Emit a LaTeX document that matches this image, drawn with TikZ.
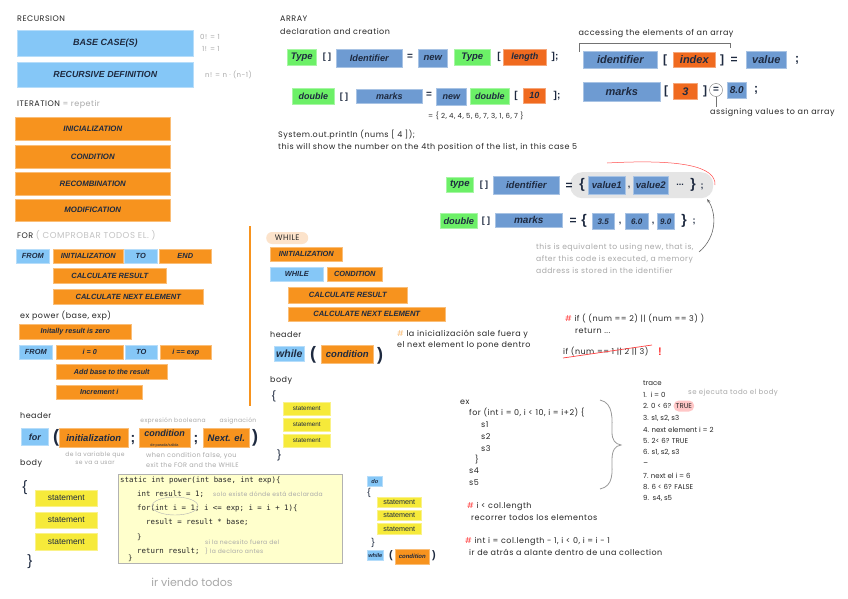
\documentclass[tikz,border=0pt]{standalone}
\usepackage{fontspec}
\setmainfont{Liberation Sans}
\newfontfamily\hand[LetterSpace=6]{Poppins}
\newfontfamily\handn{Poppins}
\setmonofont{DejaVu Sans Mono}
\usetikzlibrary{shapes.geometric,arrows.meta,positioning}
\definecolor{rblue}{HTML}{85C7F7}
\definecolor{orng}{HTML}{F7931E}
\definecolor{ablue}{HTML}{6E9BD2}
\definecolor{agreen}{HTML}{6CF067}
\definecolor{dorng}{HTML}{F06A1F}
\definecolor{syellow}{HTML}{F6EA3A}
\definecolor{ink}{HTML}{1E2A40}
\definecolor{codey}{HTML}{FFFFCC}
\definecolor{peach}{HTML}{FCE3CB}
\definecolor{hgray}{HTML}{A8A8A8}
\newcommand\mkbox[7]{\node[bx,#1,minimum width=#4,minimum height=#5] (#6) at (#2,#3) {#7};}
\tikzset{
  bx/.style={rectangle,inner sep=0pt,anchor=north west,text=ink},
  rb/.style={fill=rblue,draw=rblue!60!white,line width=0.6pt},
  ob/.style={fill=orng,draw=orng!60!white,line width=0.6pt},
  ab/.style={fill=ablue,draw=ablue!60!white,line width=0.6pt},
  gb/.style={fill=agreen,draw=agreen!60!white,line width=0.6pt},
  db/.style={fill=dorng,draw=dorng!60!white,line width=0.6pt},
  yb/.style={fill=syellow,draw=syellow!60!white,line width=0.6pt},
  fs/.style={font=\bfseries\itshape\fontsize{#1}{#1}\selectfont},
  hw/.style={anchor=west,inner sep=0pt,font=\hand\fontsize{8}{9}\selectfont,text=black!85},
  hg/.style={hw,text=hgray},
  pun/.style={inner sep=0pt,font=\bfseries\fontsize{#1}{#1}\selectfont,text=ink},
  stm/.style={font=\fontsize{#1}{#1}\selectfont}
}
\begin{document}
\begin{tikzpicture}[x=1pt,y=-1pt]
\useasboundingbox (0,0) rectangle (848,599);
\fill[white] (0,0) rectangle (848,599);
% ---------- RECURSION
\node[hw] (rec) at (17,19) {RECURSION};
\mkbox{rb,fs=9}{17}{30}{176}{26}{base}{BASE CASE(S)}
\mkbox{rb,fs=8.8}{17}{62}{176}{25}{recdef}{RECURSIVE DEFINITION}
\node[hg,font=\hand\fontsize{7}{8}\selectfont] (f0) at (200,37) {0! = 1};
\node[hg,font=\hand\fontsize{7}{8}\selectfont] (f1) at (202,49) {1! = 1};
\node[hg,font=\hand\fontsize{7}{8}\selectfont] (fn) at (205,75) {n! = n · (n-1)};
% ---------- ITERATION
\node[hw] (iter) at (17,104) {ITERATION {\color{hgray}= repetir}};
\mkbox{ob,fs=7.8}{15}{117}{155}{23}{ini}{INICIALIZATION}
\mkbox{ob,fs=7.8}{15}{145}{155}{23}{cond}{CONDITION}
\mkbox{ob,fs=7.8}{15}{172}{155}{23}{recomb}{RECOMBINATION}
\mkbox{ob,fs=7.8}{15}{199}{155}{22}{modif}{MODIFICATION}
% ---------- FOR
\node[hw] (forl) at (17,235) {FOR {\color{hgray!70}\fontsize{8.6}{9}\selectfont( COMPROBAR TODOS EL. )}};
\mkbox{rb,fs=7.4}{16}{249}{33}{14}{from1}{FROM}
\mkbox{ob,fs=7.4}{53}{249}{70}{14}{init1}{INITIALIZATION}
\mkbox{rb,fs=7.4}{124}{249}{33}{14}{to1}{TO}
\mkbox{ob,fs=7.4}{159}{249}{52}{14}{end1}{END}
\mkbox{ob,fs=7.5}{53}{268}{113}{15}{calc1}{CALCULATE RESULT}
\mkbox{ob,fs=7.5}{53}{289}{150}{15}{next1}{CALCULATE NEXT ELEMENT}
\node[hw] (expow) at (20,316) {ex power (base, exp)};
\mkbox{ob,fs=7.2}{19}{324}{112}{15}{inizero}{Initally result is zero}
\mkbox{rb,fs=7.4}{19}{345}{33}{14}{from2}{FROM}
\mkbox{ob,fs=7.2}{56}{345}{67}{14}{izero}{i = 0}
\mkbox{rb,fs=7.4}{125}{345}{32}{14}{to2}{TO}
\mkbox{ob,fs=7.2}{160}{345}{51}{14}{iexp}{i == exp}
\mkbox{ob,fs=7.2}{56}{364}{111}{15}{addb}{Add base to the result}
\mkbox{ob,fs=7.2}{56}{385}{86}{14}{incr}{Increment i}
\draw[orng,line width=1.2pt] (250,226) -- (250,406);
% ---------- FOR header
\node[hw] (hdr1) at (20,416) {header};
\mkbox{rb,fs=9}{21}{428}{27}{17}{forb}{for}
\node[pun=18] (lp1) at (56,438) {(};
\mkbox{ob,fs=9.5}{59}{428}{69}{19}{initb}{initialization}
\node[pun=14] (sc1) at (133,440) {;};
\node[bx,ob,minimum width=51,minimum height=19] (condb) at (139,428) {};
\node[inner sep=0pt,font=\bfseries\itshape\fontsize{9}{9}\selectfont,text=ink] (condt) at (164.5,433) {condition};
\node[inner sep=0pt,font=\fontsize{3.8}{4}\selectfont,text=ink] (condsub) at (164.5,445.6) {de parada/salida};
\node[pun=14] (sc2) at (196,440) {;};
\mkbox{ob,fs=9.5}{203}{428}{46}{19}{nextb}{Next. el.}
\node[pun=18] (rp1) at (255,438) {)};
\node[hg,anchor=center,font=\hand\fontsize{6}{7}\selectfont] (expb) at (173,421) {expresión booleana};
\node[hg,anchor=center,font=\hand\fontsize{6}{7}\selectfont] (asig) at (238,421) {asignación};
\node[hg,anchor=center,align=center,font=\hand\fontsize{6}{8}\selectfont] (devar) at (95,458) {de la variable que\\se va a usar};
\node[hg,align=left,font=\hand\fontsize{6.5}{10}\selectfont] (whenc) at (146,460) {when condition false, you\\exit the FOR and the WHILE};
\node[hw] (body1) at (20,464) {body};
\node[pun=15,font=\fontsize{15}{15}\selectfont] (lb1) at (25,488) {\{};
\mkbox{yb,stm=8.4}{35}{490}{62}{16}{st1}{statement}
\mkbox{yb,stm=8.4}{35}{512}{62}{16}{st2}{statement}
\mkbox{yb,stm=8.4}{35}{533}{62}{17}{st3}{statement}
\node[pun=15,font=\fontsize{15}{15}\selectfont] (rb1) at (30,562) {\}};
% ---------- code box
\node[bx,fill=codey,draw=black!30,line width=0.8pt,minimum width=224,minimum height=89] (code) at (118,474) {};
\begin{scope}[every node/.style={anchor=west,inner sep=0pt,font=\ttfamily\fontsize{7.4}{8}\selectfont,text=black!85}]
\node (c1) at (120,480) {static int power(int base, int exp)\{};
\node (c2) at (137,494) {int result = 1;};
\node (c3) at (137,508) {for(int i = 1; i <= exp; i = i + 1)\{};
\node (c4) at (146,522) {result = result * base;};
\node (c5) at (137,537) {\}};
\node (c6) at (137,551) {return result;};
\node (c7) at (128,558) {\}};
\end{scope}
\draw[black!30] (175,506) ellipse (23 and 9);
\node[hg,font=\hand\fontsize{6}{7}\selectfont] (solo) at (213,494) {solo existe dónde está declarada};
\node[hg,align=left,font=\hand\fontsize{6}{9}\selectfont] (sila) at (205,547) {si la necesito fuera del\\\} la declaro antes};
\node[hg,anchor=center,font=\handn\fontsize{11}{12}\selectfont] (irv) at (192,582) {ir viendo todos};
% ---------- ARRAY
\node[hw] (arr) at (280,19) {ARRAY};
\node[hw] (decl) at (280,31) {declaration and creation};
\mkbox{gb,fs=9.5}{287}{49}{29}{16}{type1}{Type}
\node[pun=9] (br1) at (327,57) {[ ]};
\mkbox{ab,fs=9.2}{336}{49}{66}{18}{ident1}{Identifier}
\node[pun=10] (eq1) at (410,57) {=};
\mkbox{ab,fs=9.5}{418}{49}{29}{18}{new1}{new}
\mkbox{gb,fs=9.5}{454}{49}{36}{16}{type2}{Type}
\node[pun=10] (br2) at (499,57) {[};
\mkbox{db,fs=9}{503}{49}{43}{16}{len}{length}
\node[pun=10] (br3) at (555,57) {];};
\mkbox{gb,fs=9}{292}{88}{42}{16}{dbl1}{double}
\node[pun=9] (br4) at (344,97) {[ ]};
\mkbox{ab,fs=9}{356}{89}{66}{14}{marks1}{marks}
\node[pun=10] (eq2) at (429,95) {=};
\mkbox{ab,fs=9}{436}{88}{30}{17}{new2}{new}
\mkbox{gb,fs=9}{470}{88}{39}{16}{dbl2}{double}
\node[pun=10] (br5) at (516,96) {[};
\mkbox{db,fs=9}{523}{88}{22}{15}{ten}{10}
\node[pun=10] (br6) at (557,96) {];};
\node[hw,font=\hand\fontsize{7}{8}\selectfont] (list) at (428,116) {= \{ 2, 4, 4, 5, 6, 7, 3, 1, 6, 7 \}};
\node[hw,align=left,font=\hand\fontsize{8}{12}\selectfont] (sysout) at (278,141) {System.out.println (nums [ 4 ]);\\this will show the number on the 4th position of the list, in this case 5};
% ---------- accessing
\node[hw,anchor=center] (acc) at (656,34) {accessing the elements of an array};
\draw[black!55] (579,52) -- (579,43) -- (730,43) -- (730,48);
\mkbox{ab,fs=11}{583}{51}{74}{17}{ident2}{identifier}
\node[pun=12] (br7) at (665,60) {[};
\mkbox{db,fs=11}{673}{52}{42}{15}{idx}{index}
\node[pun=12] (br8) at (722,60) {]};
\node[pun=12] (eq3) at (734,60) {=};
\mkbox{ab,fs=11}{746}{51}{40}{17}{val}{value}
\node[pun=12] (sc3) at (797,60) {;};
\mkbox{ab,fs=11}{583}{82}{77}{19}{marks2}{marks}
\node[pun=12] (br9) at (666,91) {[};
\mkbox{db,fs=11}{673}{83}{24}{16}{three}{3}
\node[pun=12] (br10) at (705,91) {]};
\node[circle,draw=black!55,inner sep=0pt,minimum size=13,font=\bfseries\fontsize{10}{10}\selectfont,text=ink] (eqc) at (716,90) {=};
\mkbox{ab,fs=10}{727}{82}{19}{16}{eight}{8.0}
\node[pun=12] (sc4) at (756,90) {;};
\coordinate (eqd) at (716,107);
\draw[black!55] (eqc.south) -- (eqd);
\node[hw] (assign) at (710,113) {assigning values to an array};
% ---------- initializer lists
\node[fill=black!10,rounded corners=12pt,minimum width=143,minimum height=26,anchor=north west,inner sep=0pt] (pill) at (570,172) {};
\mkbox{gb,fs=9.5}{446}{177}{27}{15}{type3}{type}
\node[pun=9] (br11) at (484,185) {[ ]};
\mkbox{ab,fs=9.6}{493}{176}{66}{18}{ident3}{identifier}
\node[pun=12] (eq4) at (569,186) {=};
\node[pun=14] (lb2) at (582,185) {\{};
\mkbox{ab,fs=9.6}{588}{176}{37}{18}{v1}{value1}
\node[pun=9] (cm1) at (629,188) {,};
\mkbox{ab,fs=9.6}{633}{176}{35}{18}{v2}{value2}
\node[pun=9] (dots) at (680,185) {...};
\node[pun=14] (rb2) at (693,185) {\}};
\node[pun=9] (sc5) at (702,187) {;};
\coordinate (redA) at (607,163);
\coordinate (redB) at (715,185);
\draw[red!70,line width=0.5pt] (redA) .. controls (680,159) and (716,166) .. (redB);
\mkbox{gb,fs=9.3}{440}{213}{37}{15}{dbl3}{double}
\node[pun=9] (br12) at (486,221) {[ ]};
\mkbox{ab,fs=10}{495}{213}{67}{14}{marks3}{marks}
\node[pun=12] (eq5) at (573,221) {=};
\node[pun=14] (lb3) at (584,221) {\{};
\mkbox{ab,fs=8}{592}{213}{22}{16}{n35}{3.5}
\node[pun=9] (cm2) at (620,224) {,};
\mkbox{ab,fs=8}{625}{213}{23}{16}{n60}{6.0}
\node[pun=9] (cm3) at (653,224) {,};
\mkbox{ab,fs=8}{657}{213}{17}{16}{n90}{9.0}
\node[pun=14] (rb3) at (684,221) {\}};
\node[pun=9] (sc6) at (694,222) {;};
\coordinate (arS) at (699,252);
\coordinate (arE) at (707,199);
\draw[black!60,line width=0.6pt,-{Stealth[length=4pt,width=3pt]}] (arS) .. controls (718,236) and (716,212) .. (arE);
\node[hg,align=left,font=\hand\fontsize{7.6}{12}\selectfont] (equiv) at (536,259) {this is equivalent to using new, that is,\\after this code is executed, a memory\\address is stored in the identifier};
% ---------- WHILE
\node[hw,fill=peach,rounded corners=6pt,minimum height=12,minimum width=42,inner xsep=4pt] (whl) at (266,238) {WHILE};
\mkbox{ob,fs=7.4}{270}{247}{72}{14}{wini}{INITIALIZATION}
\mkbox{rb,fs=7.4}{270}{267}{53}{14}{wwh}{WHILE}
\mkbox{ob,fs=7.4}{327}{267}{55}{14}{wcond}{CONDITION}
\mkbox{ob,fs=7.6}{288}{287}{119}{16}{wcalc}{CALCULATE RESULT}
\mkbox{ob,fs=7.6}{288}{307}{157}{14}{wnext}{CALCULATE NEXT ELEMENT}
\node[hw] (hdr2) at (270,335) {header};
\mkbox{rb,fs=10.5}{274}{346}{30}{15}{whb}{while}
\node[pun=18] (lp2) at (313,355) {(};
\mkbox{ob,fs=9.5}{321}{345}{52}{18}{wcb}{condition}
\node[pun=18] (rp2) at (380,356) {)};
\node[hw,align=left,font=\hand\fontsize{8}{11}\selectfont] (lainic) at (397,340) {{\color{orng!60}\#} la inicialización sale fuera y\\el next element lo pone dentro};
\node[hw] (body2) at (270,381) {body};
\node[pun=12,font=\fontsize{12}{12}\selectfont] (lb4) at (274,396) {\{};
\mkbox{yb,stm=6.3}{283}{402}{47}{13}{ws1}{statement}
\mkbox{yb,stm=6.3}{283}{418}{47}{13}{ws2}{statement}
\mkbox{yb,stm=6.3}{283}{434}{47}{13}{ws3}{statement}
\node[pun=12,font=\fontsize{12}{12}\selectfont] (rb4) at (279,455) {\}};
% ---------- do while
\mkbox{rb,fs=5.6}{367}{476}{15}{10}{dob}{do}
\node[pun=10,font=\fontsize{10}{10}\selectfont] (lb5) at (369,493) {\{};
\mkbox{yb,stm=7.2}{377}{497}{44}{10}{ds1}{statement}
\mkbox{yb,stm=7.2}{377}{510}{44}{10}{ds2}{statement}
\mkbox{yb,stm=7.2}{377}{523}{44}{11}{ds3}{statement}
\node[pun=10,font=\fontsize{10}{10}\selectfont] (rb5) at (373,543) {\}};
\mkbox{rb,fs=5.6}{367}{550}{16}{10}{dwh}{while}
\node[pun=11] (lp3) at (391,556) {(};
\mkbox{ob,fs=6}{395}{549}{34}{15}{dcond}{condition}
\node[pun=11] (rp3) at (434,556) {)};
% ---------- example
\begin{scope}[every node/.style={hw}]
\node (ex) at (460,402) {ex};
\node (exfor) at (469,413) {for (int i = 0, i < 10, i = i+2) \{};
\node (s1) at (481,425) {s1};
\node (s2) at (481,437) {s2};
\node (s3) at (481,449) {s3};
\node (exrb) at (475,460) {\}};
\node (s4) at (469,471) {s4};
\node (s5) at (469,483) {s5};
\end{scope}
\draw[black!40,line width=0.8pt] (600,400) .. controls (614,403) and (612,420) .. (612,432) .. controls (612,440) and (615,444) .. (621,445) .. controls (615,446) and (612,450) .. (612,460) .. controls (612,472) and (614,486) .. (600,489);
% ---------- trace
\begin{scope}[every node/.style={hw,font=\handn\fontsize{7}{8}\selectfont}]
\node (tr) at (643,383) {trace};
\node (t1) at (643,395) {1.\, i = 0};
\node (t2) at (643,406) {2. 0 < 6?};
\node (t3) at (643,418) {3. s1, s2, s3};
\node (t4) at (643,430) {4. next element i = 2};
\node (t5) at (643,441) {5. 2< 6? TRUE};
\node (t6) at (643,452) {6. s1, s2, s3};
\node (tdots) at (643,463) {\_};
\node (t7) at (643,476) {7. next el i = 6};
\node (t8) at (643,487) {8. 6 < 6? FALSE};
\node (t9) at (643,498) {9.\,  s4, s5};
\end{scope}
\node[hw,font=\handn\fontsize{7}{8}\selectfont,fill=red!22,rounded corners=5pt,inner xsep=2pt,minimum height=11,right=2pt of t2] (ttrue) {TRUE};
\node[hg,font=\hand\fontsize{7}{8}\selectfont] (seej) at (688,393) {se ejecuta todo el body};
% ---------- if
\node[hw,align=left,font=\hand\fontsize{8}{12}\selectfont] (ifn) at (565,324) {{\color{red!75}\#} if ( (num == 2) || (num == 3) )\\\hspace{10pt}return ...};
\node[hw] (ifw) at (563,352) {if (num == 1 || 2 || 3)};
\coordinate (stA) at (563,358);
\coordinate (stB) at (652,345);
\draw[red!75,line width=0.7pt] (stA) -- (stB);
\node[hw,text=red!80,font=\bfseries\fontsize{11}{11}\selectfont] (excl) at (658,352) {!};
% ---------- notes
\node[hw,align=left,font=\hand\fontsize{8}{12}\selectfont] (note1) at (467,511) {{\color{red!75}\#} i < col.length\\\hspace{4pt}recorrer todos los elementos};
\node[hw,align=left,font=\hand\fontsize{8}{12}\selectfont] (note2) at (465,546) {{\color{red!75}\#} int i = col.length - 1, i < 0, i = i - 1\\\hspace{4pt}ir de atrás a alante dentro de una collection};
\end{tikzpicture}
\end{document}
